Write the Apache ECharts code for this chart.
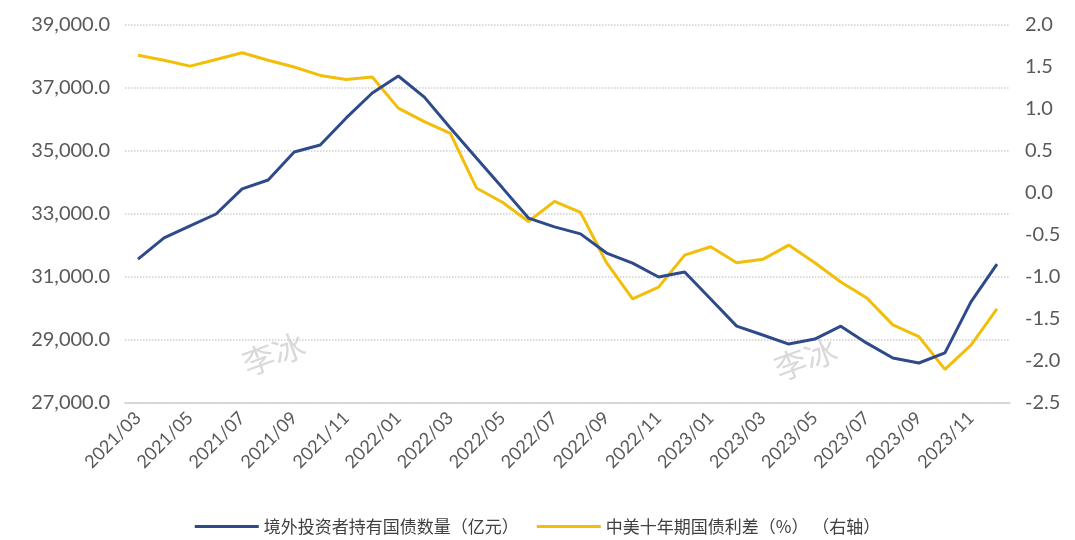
<!DOCTYPE html>
<html>
<head>
<meta charset="utf-8">
<script src="https://cdn.jsdelivr.net/npm/echarts@6/dist/echarts.min.js"></script>
<style>
  html, body { margin: 0; padding: 0; background: #fff; }
  #main { width: 1075px; height: 540px; }
</style>
</head>
<body>
<div id="main"></div>
<script>
// months, 2021/03 .. 2023/12
var months = [
  '2021/03','2021/04','2021/05','2021/06','2021/07','2021/08','2021/09','2021/10','2021/11','2021/12',
  '2022/01','2022/02','2022/03','2022/04','2022/05','2022/06','2022/07','2022/08','2022/09','2022/10','2022/11','2022/12',
  '2023/01','2023/02','2023/03','2023/04','2023/05','2023/06','2023/07','2023/08','2023/09','2023/10','2023/11','2023/12'
];

// 境外投资者持有国债数量（亿元）
var holdings = [
  31570, 32240, 32620, 33000, 33800, 34080, 34970, 35190, 36050, 36840,
  37380, 36710, 35730, 34780, 33830, 32870, 32590, 32370, 31760, 31440, 31000, 31160,
  30300, 29440, 29160, 28870, 29030, 29440, 28900, 28430, 28270, 28590, 30210, 31410
];

// 中美十年期国债利差（%）
var spread = [
  1.64, 1.58, 1.51, 1.59, 1.67, 1.58, 1.50, 1.40, 1.35, 1.38,
  1.01, 0.85, 0.71, 0.06, -0.11, -0.34, -0.10, -0.23, -0.83, -1.26, -1.12, -0.74,
  -0.64, -0.83, -0.79, -0.62, -0.83, -1.06, -1.25, -1.57, -1.71, -2.10, -1.81, -1.38
];

var seriesNames = ['境外投资者持有国债数量（亿元）', '中美十年期国债利差（%） （右轴）'];

var font = 'Lato, "Noto Sans CJK SC", sans-serif';
var labelColor = '#595959';

function fmtThousands(v) {
  var s = Math.abs(v).toFixed(1).split('.');
  s[0] = s[0].replace(/\B(?=(\d{3})+(?!\d))/g, ',');
  return (v < 0 ? '-' : '') + s.join('.');
}

var chart = echarts.init(document.getElementById('main'));

chart.setOption({
  backgroundColor: '#fff',
  animation: false,
  grid: { left: 125, right: 65, top: 25, bottom: 137 },
  legend: {
    bottom: 0,
    left: 'center',
    itemWidth: 64,
    itemHeight: 3,
    itemGap: 18,
    icon: 'rect',
    textStyle: { fontFamily: '"Noto Sans CJK SC", sans-serif', fontSize: 17, color: '#404040' },
    data: seriesNames
  },
  xAxis: {
    type: 'category',
    data: months,
    boundaryGap: true,
    axisLine: { onZero: false, lineStyle: { color: '#d0d0d0', width: 1.5 } },
    axisTick: { show: false },
    axisLabel: {
      interval: 1,
      rotate: 45,
      fontFamily: font,
      fontSize: 18,
      color: labelColor,
      margin: 12
    },
    splitLine: { show: false }
  },
  yAxis: [
    {
      type: 'value',
      min: 27000,
      max: 39000,
      interval: 2000,
      axisLine: { show: false },
      axisTick: { show: false },
      axisLabel: {
        fontFamily: font, fontSize: 20, color: labelColor, margin: 15,
        formatter: fmtThousands
      },
      splitLine: { lineStyle: { color: '#cfcfcf', type: 'dotted', width: 1.5 } }
    },
    {
      type: 'value',
      min: -2.5,
      max: 2.0,
      interval: 0.5,
      axisLine: { show: false },
      axisTick: { show: false },
      axisLabel: {
        fontFamily: font, fontSize: 20, color: labelColor, margin: 15,
        formatter: function (v) { return v.toFixed(1); }
      },
      splitLine: { show: false }
    }
  ],
  graphic: [
    { type: 'text', left: 238, top: 328, rotation: 0.35,
      style: { text: '李冰', fill: 'rgba(160,160,160,0.4)', font: '32px "Noto Sans CJK SC"' } },
    { type: 'text', left: 770, top: 333, rotation: 0.35,
      style: { text: '李冰', fill: 'rgba(160,160,160,0.4)', font: '32px "Noto Sans CJK SC"' } }
  ],
  series: [
    {
      name: seriesNames[0],
      type: 'line',
      yAxisIndex: 0,
      data: holdings,
      symbol: 'none',
      lineStyle: { color: '#2E4A8B', width: 3 },
      itemStyle: { color: '#2E4A8B' },
      z: 3
    },
    {
      name: seriesNames[1],
      type: 'line',
      yAxisIndex: 1,
      data: spread,
      symbol: 'none',
      lineStyle: { color: '#F2BE0A', width: 3 },
      itemStyle: { color: '#F2BE0A' },
      z: 2
    }
  ]
});
</script>
</body>
</html>
